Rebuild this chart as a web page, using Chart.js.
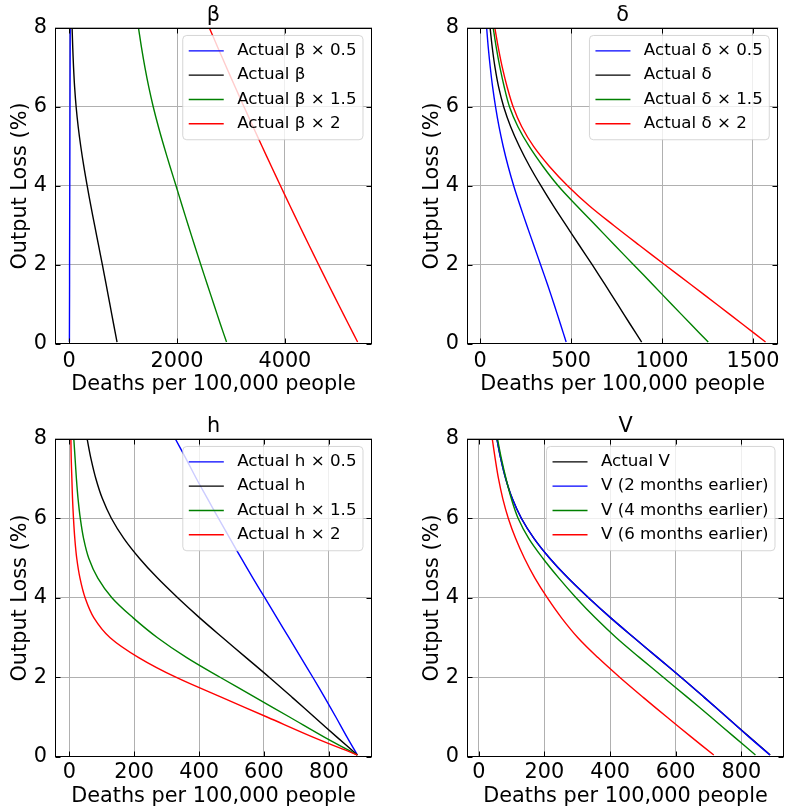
<!DOCTYPE html>
<html>
<head>
<meta charset="utf-8">
<script src="https://cdn.jsdelivr.net/npm/chart.js@4/dist/chart.umd.min.js"></script>
<style>
  body { margin: 0; background: #fff; }
  #wrap { position: relative; width: 785px; height: 812px; }
  canvas { position: absolute; }
</style>
</head>
<body>
<div id="wrap">
  <canvas id="betaChart" width="392" height="406" style="left:0;top:0"></canvas>
  <canvas id="deltaChart" width="393" height="406" style="left:392px;top:0"></canvas>
  <canvas id="hChart" width="392" height="406" style="left:0;top:406px"></canvas>
  <canvas id="vChart" width="393" height="406" style="left:392px;top:406px"></canvas>
</div>
<script>
// output loss (%) levels shared by every curve
const lossLevels = [0.05, 0.5, 1, 1.5, 2, 2.5, 3, 3.5, 4, 4.5, 5, 5.5, 6, 6.5, 7, 7.5, 8];

// deaths per 100,000 people at each loss level
const actualDeaths = [888, 825, 756, 687, 617, 545, 473, 402, 335, 272, 216, 168, 130, 102, 82, 67, 55];

const betaHalf = [5, 6, 7, 8, 8, 9, 10, 11, 12, 13, 14, 15, 16, 17, 18, 19, 20];
const betaOneHalf = [2918, 2805, 2684, 2563, 2443, 2325, 2209, 2095, 1983, 1869, 1759, 1655, 1560, 1477, 1405, 1342, 1286];
const betaDouble = [5348, 5180, 4994, 4810, 4628, 4448, 4270, 4094, 3920, 3748, 3578, 3410, 3244, 3080, 2918, 2758, 2600];

const deltaHalf = [473, 442, 407, 371, 333, 295, 257, 220, 185, 154, 127, 104, 85, 69, 56, 45, 36];
const deltaOneHalf = [1254, 1159, 1054, 950, 845, 740, 636, 531, 430, 345, 270, 208, 162, 133, 109, 89, 72];
const deltaDouble = [1569, 1443, 1302, 1160, 1017, 875, 735, 600, 482, 380, 294, 229, 182, 149, 122, 100, 81];

const hHalf = [888, 856, 822, 787, 751, 714, 677, 640, 603, 566, 530, 495, 460, 426, 392, 360, 327];
const hOneHalf = [888, 786, 680, 573, 466, 362, 272, 197, 132, 88, 60, 44, 34, 27, 22, 18, 14];
const hDouble = [888, 751, 611, 470, 330, 214, 126, 76, 49, 33, 23, 17, 13, 10, 8, 6, 5];

const vTwoMonths = [887, 824, 756, 687, 617, 545, 473, 402, 335, 272, 216, 168, 130, 102, 82, 67, 55];
const vFourMonths = [843, 779, 708, 636, 563, 490, 419, 355, 297, 244, 195, 152, 120, 99, 83, 69, 57];
const vSixMonths = [716, 648, 574, 501, 430, 363, 302, 252, 209, 171, 139, 112, 90, 73, 60, 50, 41];

const yTicks = [0, 2, 4, 6, 8];
const betaTicks = [0, 2000, 4000];
const deltaTicks = [0, 500, 1000, 1500];
const hTicks = [0, 200, 400, 600, 800];
const vTicks = [0, 200, 400, 600, 800];

Chart.defaults.font.family = "'DejaVu Sans'";
Chart.defaults.color = "#000";

const toPoints = deaths => deaths.map((d, i) => ({ x: d, y: lossLevels[i] }));

const frameAndLegend = {
  id: "frameAndLegend",
  afterDatasetsDraw(chart) {
    const { ctx, chartArea: area, scales } = chart;
    const l = Math.round(area.left) + 0.5;
    const r = Math.round(area.right) - 0.5;
    const t = Math.round(area.top) + 0.5;
    const b = Math.round(area.bottom) - 0.5;
    ctx.save();
    ctx.strokeStyle = "#000";
    ctx.lineWidth = 1;
    ctx.beginPath();
    scales.x.ticks.forEach(tk => {
      const px = Math.round(scales.x.getPixelForValue(tk.value)) + 0.5;
      ctx.moveTo(px, b); ctx.lineTo(px, b - 5);
      ctx.moveTo(px, t); ctx.lineTo(px, t + 5);
    });
    scales.y.ticks.forEach(tk => {
      const py = Math.round(scales.y.getPixelForValue(tk.value)) + 0.5;
      ctx.moveTo(l, py); ctx.lineTo(l + 5, py);
      ctx.moveTo(r, py); ctx.lineTo(r - 5, py);
    });
    ctx.stroke();
    ctx.strokeRect(l, t, r - l, b - t);

    // legend box, upper right inside the axes
    const sets = chart.data.datasets;
    ctx.font = "16.7px 'DejaVu Sans'";
    const textW = Math.max(...sets.map(d => ctx.measureText(d.label).width));
    const rowH = 24.3;
    const boxW = 6 + 35 + 13.4 + textW + 6.5;
    const boxH = 31.4 + rowH * (sets.length - 1);
    const bx = area.right - 9 - boxW;
    const by = area.top + 7.5;
    ctx.beginPath();
    if (ctx.roundRect) ctx.roundRect(bx, by, boxW, boxH, 4); else ctx.rect(bx, by, boxW, boxH);
    ctx.fillStyle = "rgba(255,255,255,0.8)";
    ctx.fill();
    ctx.strokeStyle = "rgba(204,204,204,0.8)";
    ctx.stroke();
    sets.forEach((d, i) => {
      const cy = by + 15.4 + i * rowH;
      ctx.beginPath();
      ctx.moveTo(bx + 6, cy);
      ctx.lineTo(bx + 41, cy);
      ctx.strokeStyle = d.borderColor;
      ctx.lineWidth = 1.4;
      ctx.stroke();
      ctx.fillStyle = "#000";
      ctx.textBaseline = "middle";
      ctx.textAlign = "left";
      ctx.fillText(d.label, bx + 54.4, cy);
    });
    ctx.restore();
  }
};

function buildPanel(id, title, series, xMin, xMax, xTicks, box) {
  new Chart(document.getElementById(id), {
    type: "scatter",
    data: {
      datasets: series.map((s, i) => ({
        label: s.label,
        data: toPoints(s.deaths),
        borderColor: s.color,
        backgroundColor: s.color,
        borderWidth: 1.4,
        pointRadius: 0,
        showLine: true,
        tension: 0.35,
        order: series.length - i
      }))
    },
    options: {
      responsive: false,
      animation: false,
      layout: { padding: { top: box.padTop, right: box.padRight, left: 0, bottom: 0 } },
      plugins: {
        legend: { display: false },
        tooltip: { enabled: false },
        title: {
          display: true,
          text: title,
          fullSize: false,
          color: "#000",
          font: { size: 20.8, weight: "normal" },
          padding: { top: 3, bottom: 0 }
        }
      },
      scales: {
        x: {
          type: "linear",
          min: xMin,
          max: xMax,
          afterBuildTicks: scale => { scale.ticks = xTicks.map(v => ({ value: v })); },
          afterFit: scale => { scale.height = box.xHeight; },
          grid: { color: "#b0b0b0", lineWidth: 1, drawTicks: false },
          border: { display: false },
          ticks: { font: { size: 20.8 }, padding: box.xTickPad, maxRotation: 0, callback: v => String(v) },
          title: {
            display: true,
            text: "Deaths per 100,000 people",
            font: { size: 20.8 },
            padding: { top: 0, bottom: box.xTitlePad }
          }
        },
        y: {
          type: "linear",
          min: 0,
          max: 8,
          afterBuildTicks: scale => { scale.ticks = yTicks.map(v => ({ value: v })); },
          afterFit: scale => { scale.width = box.yWidth; },
          grid: { color: "#b0b0b0", lineWidth: 1, drawTicks: false },
          border: { display: false },
          ticks: { font: { size: 20.8 }, padding: 8, callback: v => String(v) },
          title: {
            display: true,
            text: "Output Loss (%)",
            font: { size: 20.8 },
            padding: { top: box.yTitlePad, bottom: 0 }
          }
        }
      }
    },
    plugins: [frameAndLegend]
  });
}

const topLeft = { padTop: 0, padRight: 20, yWidth: 55, xHeight: 62, xTickPad: 5, xTitlePad: 8.5, yTitlePad: 8 };
const topRight = { padTop: 0, padRight: 1, yWidth: 75, xHeight: 62, xTickPad: 5, xTitlePad: 8.5, yTitlePad: 28 };
const bottomLeft = { padTop: 5, padRight: 20, yWidth: 55, xHeight: 55, xTickPad: 3, xTitlePad: 2.5, yTitlePad: 8 };
const bottomRight = { padTop: 5, padRight: 1, yWidth: 75, xHeight: 55, xTickPad: 3, xTitlePad: 2.5, yTitlePad: 28 };

buildPanel("betaChart", "β", [
  { label: "Actual β × 0.5", deaths: betaHalf, color: "#0000ff" },
  { label: "Actual β", deaths: actualDeaths, color: "#000000" },
  { label: "Actual β × 1.5", deaths: betaOneHalf, color: "#008000" },
  { label: "Actual β × 2", deaths: betaDouble, color: "#ff0000" }
], -262, 5615, betaTicks, topLeft);

buildPanel("deltaChart", "δ", [
  { label: "Actual δ × 0.5", deaths: deltaHalf, color: "#0000ff" },
  { label: "Actual δ", deaths: actualDeaths, color: "#000000" },
  { label: "Actual δ × 1.5", deaths: deltaOneHalf, color: "#008000" },
  { label: "Actual δ × 2", deaths: deltaDouble, color: "#ff0000" }
], -72, 1639, deltaTicks, topRight);

buildPanel("hChart", "h", [
  { label: "Actual h × 0.5", deaths: hHalf, color: "#0000ff" },
  { label: "Actual h", deaths: actualDeaths, color: "#000000" },
  { label: "Actual h × 1.5", deaths: hOneHalf, color: "#008000" },
  { label: "Actual h × 2", deaths: hDouble, color: "#ff0000" }
], -44, 933, hTicks, bottomLeft);

buildPanel("vChart", "V", [
  { label: "Actual V", deaths: actualDeaths, color: "#000000" },
  { label: "V (2 months earlier)", deaths: vTwoMonths, color: "#0000ff" },
  { label: "V (4 months earlier)", deaths: vFourMonths, color: "#008000" },
  { label: "V (6 months earlier)", deaths: vSixMonths, color: "#ff0000" }
], -36, 930, vTicks, bottomRight);
</script>
</body>
</html>
